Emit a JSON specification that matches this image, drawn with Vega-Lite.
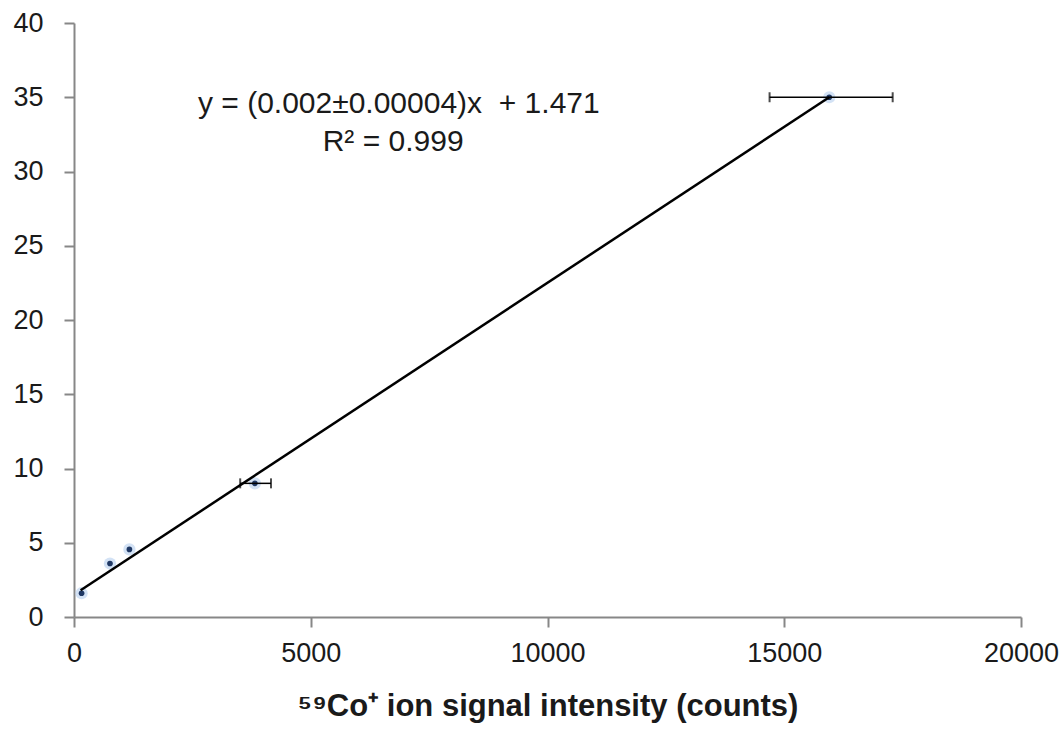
{
  "$schema": "https://vega.github.io/schema/vega-lite/v6.json",
  "autosize": {"type": "none"},
  "padding": {"left": 74, "top": 23, "right": 43, "bottom": 114},
  "width": 947,
  "height": 594,
  "background": "white",
  "config": {
    "view": {"stroke": null},
    "font": "Liberation Sans",
    "axis": {
      "grid": false,
      "domainColor": "#878787",
      "domainWidth": 2,
      "tickColor": "#878787",
      "tickWidth": 2,
      "tickSize": 10,
      "labelFont": "Liberation Sans",
      "labelFontSize": 27,
      "labelColor": "#1a1a1a",
      "labelFlush": false,
      "labelOverlap": false
    }
  },
  "datasets": {
    "pts": [
      {"x": 160, "y": 1.6, "xlo": 160, "xhi": 160},
      {"x": 760, "y": 3.6, "xlo": 760, "xhi": 760},
      {"x": 1170, "y": 4.55, "xlo": 1170, "xhi": 1170},
      {"x": 3820, "y": 9.0, "xlo": 3510, "xhi": 4160},
      {"x": 15950, "y": 35.0, "xlo": 14690, "xhi": 17290}
    ],
    "fit": [
      {"x": 140, "y": 1.8},
      {"x": 15950, "y": 35.0}
    ],
    "labels": [
      {"x": 6860, "y": 34.55, "t": "y = (0.002±0.00004)x\u00a0 + 1.471"},
      {"x": 6740, "y": 32.0, "t": "R² = 0.999"}
    ]
  },
  "layer": [
    {
      "data": {"name": "pts"},
      "mark": {"type": "point", "filled": true, "shape": "circle", "size": 150, "color": "#b5cfee", "opacity": 0.6},
      "encoding": {
        "x": {"field": "x", "type": "quantitative", "scale": {"domain": [0, 20000], "nice": false},
              "title": "⁵⁹Co⁺ ion signal intensity (counts)",
              "axis": {"values": [0, 5000, 10000, 15000, 20000], "titleFont": "Liberation Sans", "titleFontSize": 31, "titleFontWeight": "bold", "titleColor": "#1a1a1a", "titlePadding": 25, "labelPadding": 13, "format": "d"}},
        "y": {"field": "y", "type": "quantitative", "scale": {"domain": [0, 40], "nice": false},
              "title": null,
              "axis": {"values": [0, 5, 10, 15, 20, 25, 30, 35, 40], "labelPadding": 21}}
      }
    },
    {
      "data": {"name": "pts"},
      "mark": {"type": "point", "filled": true, "shape": "circle", "size": 32, "color": "#1f3864", "opacity": 1},
      "encoding": {
        "x": {"field": "x", "type": "quantitative", "title": "⁵⁹Co⁺ ion signal intensity (counts)"},
        "y": {"field": "y", "type": "quantitative", "title": null}
      }
    },
    {
      "data": {"name": "fit"},
      "mark": {"type": "line", "color": "#000000", "strokeWidth": 2.5},
      "encoding": {
        "x": {"field": "x", "type": "quantitative", "title": "⁵⁹Co⁺ ion signal intensity (counts)"},
        "y": {"field": "y", "type": "quantitative", "title": null}
      }
    },
    {
      "data": {"name": "pts"},
      "transform": [{"filter": "datum.xhi > datum.xlo"}],
      "mark": {"type": "errorbar", "ticks": {"size": 10, "thickness": 2, "color": "#000000"}, "rule": {"strokeWidth": 1.5, "color": "#000000"}},
      "encoding": {
        "x": {"field": "xlo", "type": "quantitative", "title": "⁵⁹Co⁺ ion signal intensity (counts)"},
        "x2": {"field": "xhi"},
        "y": {"field": "y", "type": "quantitative", "title": null}
      }
    },
    {
      "data": {"name": "labels"},
      "mark": {"type": "text", "font": "Liberation Sans", "fontSize": 30, "color": "#1a1a1a", "baseline": "middle", "align": "center"},
      "encoding": {
        "x": {"field": "x", "type": "quantitative", "title": "⁵⁹Co⁺ ion signal intensity (counts)"},
        "y": {"field": "y", "type": "quantitative", "title": null},
        "text": {"field": "t"}
      }
    }
  ]
}
